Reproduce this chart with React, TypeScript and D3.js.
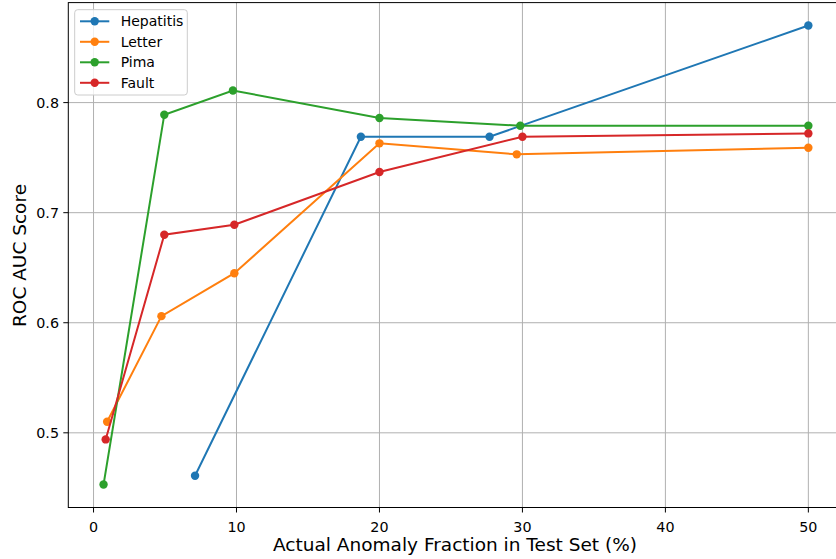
import React from "react";
import * as d3 from "d3";

const seriesNames = ["Hepatitis", "Letter", "Pima", "Fault"];
const seriesColors = ["#1f77b4", "#ff7f0e", "#2ca02c", "#d62728"];

const hepatitisX = [7.1, 18.7, 27.7, 50];
const hepatitisY = [0.461, 0.769, 0.769, 0.870];
const letterX = [0.95, 4.75, 9.85, 20.0, 29.6, 50];
const letterY = [0.510, 0.606, 0.645, 0.763, 0.753, 0.759];
const pimaX = [0.7, 4.95, 9.75, 20.0, 29.85, 50];
const pimaY = [0.453, 0.789, 0.811, 0.786, 0.779, 0.779];
const faultX = [0.85, 4.95, 9.85, 20.0, 30.0, 50];
const faultY = [0.494, 0.680, 0.689, 0.737, 0.769, 0.772];

const xTicks = [0, 10, 20, 30, 40, 50];
const yTicks = [0.5, 0.6, 0.7, 0.8];

const allX = [hepatitisX, letterX, pimaX, faultX];
const allY = [hepatitisY, letterY, pimaY, faultY];

export default function App() {
  const W = 836, H = 559;
  const left = 68.3, right = 843.6, top = 2.6, bottom = 507.5;
  const xs = allX.flat(), ys = allY.flat();
  const xmin = d3.min(xs)!, xmax = d3.max(xs)!;
  const ymin = d3.min(ys)!, ymax = d3.max(ys)!;
  const xm = (xmax - xmin) * 0.05, ym = (ymax - ymin) * 0.05;
  const x = d3.scaleLinear().domain([xmin - xm, xmax + xm]).range([left, right]);
  const y = d3.scaleLinear().domain([ymin - ym, ymax + ym]).range([bottom, top]);
  const line = d3.line<[number, number]>().x(d => x(d[0])).y(d => y(d[1]));
  const font = "DejaVu Sans, sans-serif";

  return (
    <svg width={W} height={H} style={{ position: "absolute", left: 0, top: 0 }} fontFamily={font}>
      <rect x={0} y={0} width={W} height={H} fill="#fff" />
      {xTicks.map(t => (
        <g key={"x" + t}>
          <line x1={x(t)} x2={x(t)} y1={top} y2={bottom} stroke="#b0b0b0" strokeWidth={1} />
          <line x1={x(t)} x2={x(t)} y1={bottom} y2={bottom + 5} stroke="#000" strokeWidth={1} />
          <text x={x(t)} y={531.5} fontSize={14.3} textAnchor="middle" fill="#000">{t}</text>
        </g>
      ))}
      {yTicks.map(t => (
        <g key={"y" + t}>
          <line x1={left} x2={right} y1={y(t)} y2={y(t)} stroke="#b0b0b0" strokeWidth={1} />
          <line x1={left - 5} x2={left} y1={y(t)} y2={y(t)} stroke="#000" strokeWidth={1} />
          <text x={59} y={y(t) + 5.2} fontSize={14.3} textAnchor="end" fill="#000">{t.toFixed(1)}</text>
        </g>
      ))}
      {allX.map((xa, i) => {
        const pts: [number, number][] = xa.map((v, j) => [v, allY[i][j]]);
        return (
          <g key={seriesNames[i]}>
            <path d={line(pts) || ""} fill="none" stroke={seriesColors[i]} strokeWidth={2} />
            {pts.map((p, j) => (
              <circle key={j} cx={x(p[0])} cy={y(p[1])} r={4.2} fill={seriesColors[i]} />
            ))}
          </g>
        );
      })}
      <rect x={left} y={top} width={right - left} height={bottom - top} fill="none" stroke="#000" strokeWidth={1} />
      <text x={455} y={551} fontSize={18.5} textAnchor="middle" fill="#000">Actual Anomaly Fraction in Test Set (%)</text>
      <text transform={`translate(25.5,255.5) rotate(-90)`} fontSize={18.5} textAnchor="middle" fill="#000">ROC AUC Score</text>
      <g>
        <rect x={74.7} y={9.7} width={112.6} height={85.3} rx={3} fill="#fff" fillOpacity={0.8} stroke="#cccccc" strokeWidth={1} />
        {seriesNames.map((n, i) => {
          const cy = 21.3 + i * 20.5;
          return (
            <g key={n}>
              <line x1={80} x2={109.3} y1={cy} y2={cy} stroke={seriesColors[i]} strokeWidth={2} />
              <circle cx={94.7} cy={cy} r={4.2} fill={seriesColors[i]} />
              <text x={120.7} y={cy + 5} fontSize={14} fill="#000">{n}</text>
            </g>
          );
        })}
      </g>
    </svg>
  );
}
